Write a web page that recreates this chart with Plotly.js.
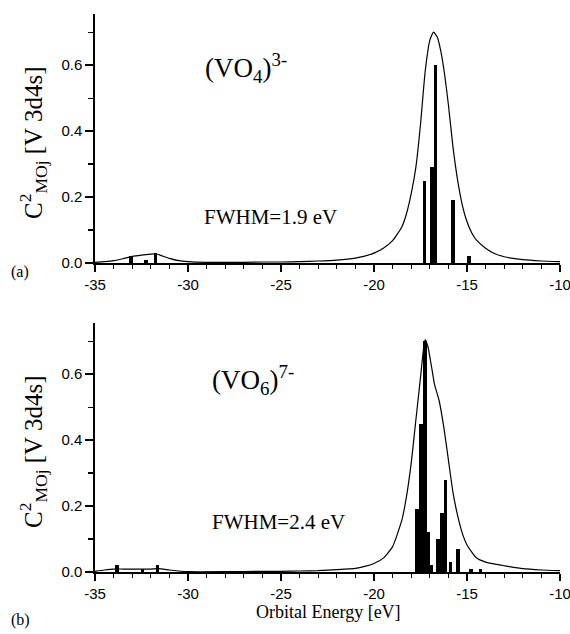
<!DOCTYPE html>
<html>
<head>
<meta charset="utf-8">
<script src="https://cdn.plot.ly/plotly-3.0.1.min.js"></script>
<style>html,body{margin:0;padding:0;background:#fff;}#chart{width:570px;height:634px;}</style>
</head>
<body>
<div id="chart"></div>
<script>
// ---- Data ----
// Panel (a): (VO4)3-
const topCurveX = [-35, -34.5, -34, -33.5, -33, -32.5, -32, -31.75, -31.5, -31, -30.5, -30, -29, -28, -27, -26, -25, -24, -23, -22, -21, -20.5, -20, -19.5, -19, -18.5, -18.25, -18, -17.75, -17.5, -17.25, -17, -16.8, -16.6, -16.4, -16.2, -16, -15.75, -15.5, -15.25, -15, -14.75, -14.5, -14, -13.5, -13, -12, -11, -10];
const topCurveY = [0.002, 0.004, 0.007, 0.013, 0.02, 0.024, 0.027, 0.028, 0.024, 0.014, 0.007, 0.004, 0.002, 0.002, 0.002, 0.003, 0.003, 0.004, 0.006, 0.009, 0.015, 0.021, 0.03, 0.045, 0.068, 0.11, 0.15, 0.21, 0.29, 0.42, 0.58, 0.675, 0.70, 0.685, 0.64, 0.57, 0.48, 0.35, 0.25, 0.175, 0.125, 0.092, 0.07, 0.045, 0.028, 0.019, 0.01, 0.006, 0.004];
const topBarX = [-33.05, -32.25, -31.75, -17.28, -16.9, -16.69, -15.77, -14.89];
const topBarY = [0.02, 0.01, 0.03, 0.25, 0.29, 0.60, 0.19, 0.02];

// Panel (b): (VO6)7-
const botCurveX = [-35, -34.5, -34, -33.5, -33, -32.5, -32, -31.6, -31, -30.5, -30, -28, -26, -25, -24, -23, -22, -21, -20.5, -20, -19.5, -19, -18.5, -18.25, -18, -17.75, -17.5, -17.35, -17.25, -17.1, -16.9, -16.75, -16.5, -16.25, -16, -15.75, -15.5, -15.25, -15, -14.5, -14, -13.5, -13, -12, -11, -10];
const botCurveY = [0.002, 0.006, 0.009, 0.009, 0.009, 0.009, 0.009, 0.01, 0.006, 0.003, 0.001, 0.001, 0.002, 0.002, 0.003, 0.004, 0.007, 0.011, 0.017, 0.026, 0.042, 0.077, 0.158, 0.23, 0.33, 0.46, 0.59, 0.67, 0.705, 0.683, 0.62, 0.57, 0.52, 0.44, 0.34, 0.24, 0.17, 0.117, 0.082, 0.043, 0.03, 0.024, 0.019, 0.01, 0.006, 0.004];
const botBarX = [-33.82, -32.45, -31.64, -17.67, -17.46, -17.26, -17.08, -16.94, -16.56, -16.36, -16.16, -15.88, -15.48, -14.77, -14.28];
const botBarY = [0.02, 0.01, 0.02, 0.19, 0.45, 0.70, 0.12, 0.02, 0.10, 0.18, 0.28, 0.03, 0.07, 0.01, 0.01];

const xTickVals = [-35, -30, -25, -20, -15, -10];
const xTickText = ['-35', '-30', '-25', '-20', '-15', '-10'];
const yTickVals = [0.0, 0.2, 0.4, 0.6];
const yTickText = ['0.0', '0.2', '0.4', '0.6'];

const yTitleText = 'C<sup>2</sup><sub>MOj</sub> [V 3d4s]';
const labelTop = '(VO<sub>4</sub>)<sup>3-</sup>';
const labelBot = '(VO<sub>6</sub>)<sup>7-</sup>';
const fwhmTop = 'FWHM=1.9 eV';
const fwhmBot = 'FWHM=2.4 eV';
const xTitleText = 'Orbital Energy [eV]';

// ---- Layout helpers ----
const W = 570, H = 634;
const sans = 'Liberation Sans, Arial, sans-serif';
const serif = 'Liberation Serif, Times New Roman, serif';
const xRange = [-35, -10];
const yRange = [0, 0.755];
const xDom = [95 / W, 560 / W];
const topDom = [1 - 263 / H, 1 - 14 / H];
const botDom = [1 - 572 / H, 1 - 323 / H];

function mainX(anchor) {
  return {
    domain: xDom, range: xRange, anchor: anchor,
    showline: true, linecolor: '#000', linewidth: 1.6,
    ticks: 'outside', ticklen: 7, tickwidth: 1.4, tickcolor: '#000',
    tickvals: xTickVals, ticktext: xTickText, ticklabeloverflow: 'allow',
    minor: {dtick: 1, tick0: -35, ticks: 'outside', ticklen: 4, tickwidth: 1.2, tickcolor: '#000', showgrid: false},
    tickfont: {family: sans, size: 15, color: '#000'},
    showgrid: false, zeroline: false, automargin: false
  };
}
function mainY(anchor, dom) {
  return {
    domain: dom, range: yRange, anchor: anchor,
    showline: true, linecolor: '#000', linewidth: 1.6,
    ticks: 'outside', ticklen: 8, tickwidth: 1.4, tickcolor: '#000',
    tickvals: yTickVals, ticktext: yTickText, ticklabeloverflow: 'allow',
    minor: {dtick: 0.1, tick0: 0, ticks: 'outside', ticklen: 5, tickwidth: 1.2, tickcolor: '#000', showgrid: false},
    tickfont: {family: sans, size: 15, color: '#000'},
    showgrid: false, zeroline: false, automargin: false
  };
}
function topMirror(over, anchor) {
  return {
    domain: xDom, range: xRange, overlaying: over, anchor: anchor, side: 'top',
    showline: true, linecolor: '#000', linewidth: 1.6,
    ticks: 'inside', ticklen: 3, tickwidth: 1.2, tickcolor: '#000',
    dtick: 1, tick0: -35, showticklabels: false,
    showgrid: false, zeroline: false, automargin: false
  };
}
function rightMirror(over, anchor, dom) {
  return {
    domain: dom, range: yRange, overlaying: over, anchor: anchor, side: 'right',
    showline: true, linecolor: '#000', linewidth: 1.6,
    ticks: 'inside', ticklen: 3, tickwidth: 1.2, tickcolor: '#000',
    dtick: 0.1, tick0: 0, showticklabels: false,
    showgrid: false, zeroline: false, automargin: false
  };
}

const traces = [
  {type: 'bar', x: topBarX, y: topBarY, xaxis: 'x', yaxis: 'y', width: 0.2,
   marker: {color: '#000', line: {width: 0}}, hoverinfo: 'skip'},
  {type: 'scatter', mode: 'lines', x: topCurveX, y: topCurveY, xaxis: 'x', yaxis: 'y',
   line: {color: '#000', width: 1.2, shape: 'spline', smoothing: 0.5}, hoverinfo: 'skip'},
  {type: 'bar', x: botBarX, y: botBarY, xaxis: 'x2', yaxis: 'y2', width: 0.2,
   marker: {color: '#000', line: {width: 0}}, hoverinfo: 'skip'},
  {type: 'scatter', mode: 'lines', x: botCurveX, y: botCurveY, xaxis: 'x2', yaxis: 'y2',
   line: {color: '#000', width: 1.2, shape: 'spline', smoothing: 0.5}, hoverinfo: 'skip'}
];

function px(xp) { return xp / W; }
function py(yp) { return 1 - yp / H; }

const annotations = [
  {text: yTitleText, textangle: -90, xref: 'paper', yref: 'paper', x: px(33), y: py(143),
   showarrow: false, font: {family: serif, size: 25, color: '#000'}, xanchor: 'center', yanchor: 'middle'},
  {text: yTitleText, textangle: -90, xref: 'paper', yref: 'paper', x: px(33), y: py(452),
   showarrow: false, font: {family: serif, size: 25, color: '#000'}, xanchor: 'center', yanchor: 'middle'},
  {text: labelTop, xref: 'paper', yref: 'paper', x: px(203), y: py(68),
   showarrow: false, font: {family: serif, size: 27, color: '#000'}, xanchor: 'left', yanchor: 'middle'},
  {text: labelBot, xref: 'paper', yref: 'paper', x: px(210), y: py(380),
   showarrow: false, font: {family: serif, size: 27, color: '#000'}, xanchor: 'left', yanchor: 'middle'},
  {text: fwhmTop, xref: 'paper', yref: 'paper', x: px(202), y: py(217),
   showarrow: false, font: {family: serif, size: 21, color: '#000'}, xanchor: 'left', yanchor: 'middle'},
  {text: fwhmBot, xref: 'paper', yref: 'paper', x: px(210), y: py(522),
   showarrow: false, font: {family: serif, size: 21, color: '#000'}, xanchor: 'left', yanchor: 'middle'},
  {text: '(a)', xref: 'paper', yref: 'paper', x: px(20), y: py(272),
   showarrow: false, font: {family: serif, size: 16, color: '#000'}, xanchor: 'center', yanchor: 'middle'},
  {text: '(b)', xref: 'paper', yref: 'paper', x: px(20), y: py(620),
   showarrow: false, font: {family: serif, size: 16, color: '#000'}, xanchor: 'center', yanchor: 'middle'},
  {text: xTitleText, xref: 'paper', yref: 'paper', x: px(328), y: py(612),
   showarrow: false, font: {family: serif, size: 18, color: '#000'}, xanchor: 'center', yanchor: 'middle'}
];

const layout = {
  width: W, height: H,
  margin: {l: 0, r: 0, t: 0, b: 0},
  paper_bgcolor: '#fff', plot_bgcolor: '#fff',
  showlegend: false, barmode: 'overlay', bargap: 0,
  xaxis: mainX('y'),
  yaxis: mainY('x', topDom),
  xaxis2: mainX('y2'),
  yaxis2: mainY('x2', botDom),
  xaxis3: topMirror('x', 'y'),
  yaxis3: rightMirror('y', 'x', topDom),
  xaxis4: topMirror('x2', 'y2'),
  yaxis4: rightMirror('y2', 'x2', botDom),
  annotations: annotations
};

Plotly.newPlot('chart', traces, layout, {displayModeBar: false, staticPlot: true});
</script>
</body>
</html>
